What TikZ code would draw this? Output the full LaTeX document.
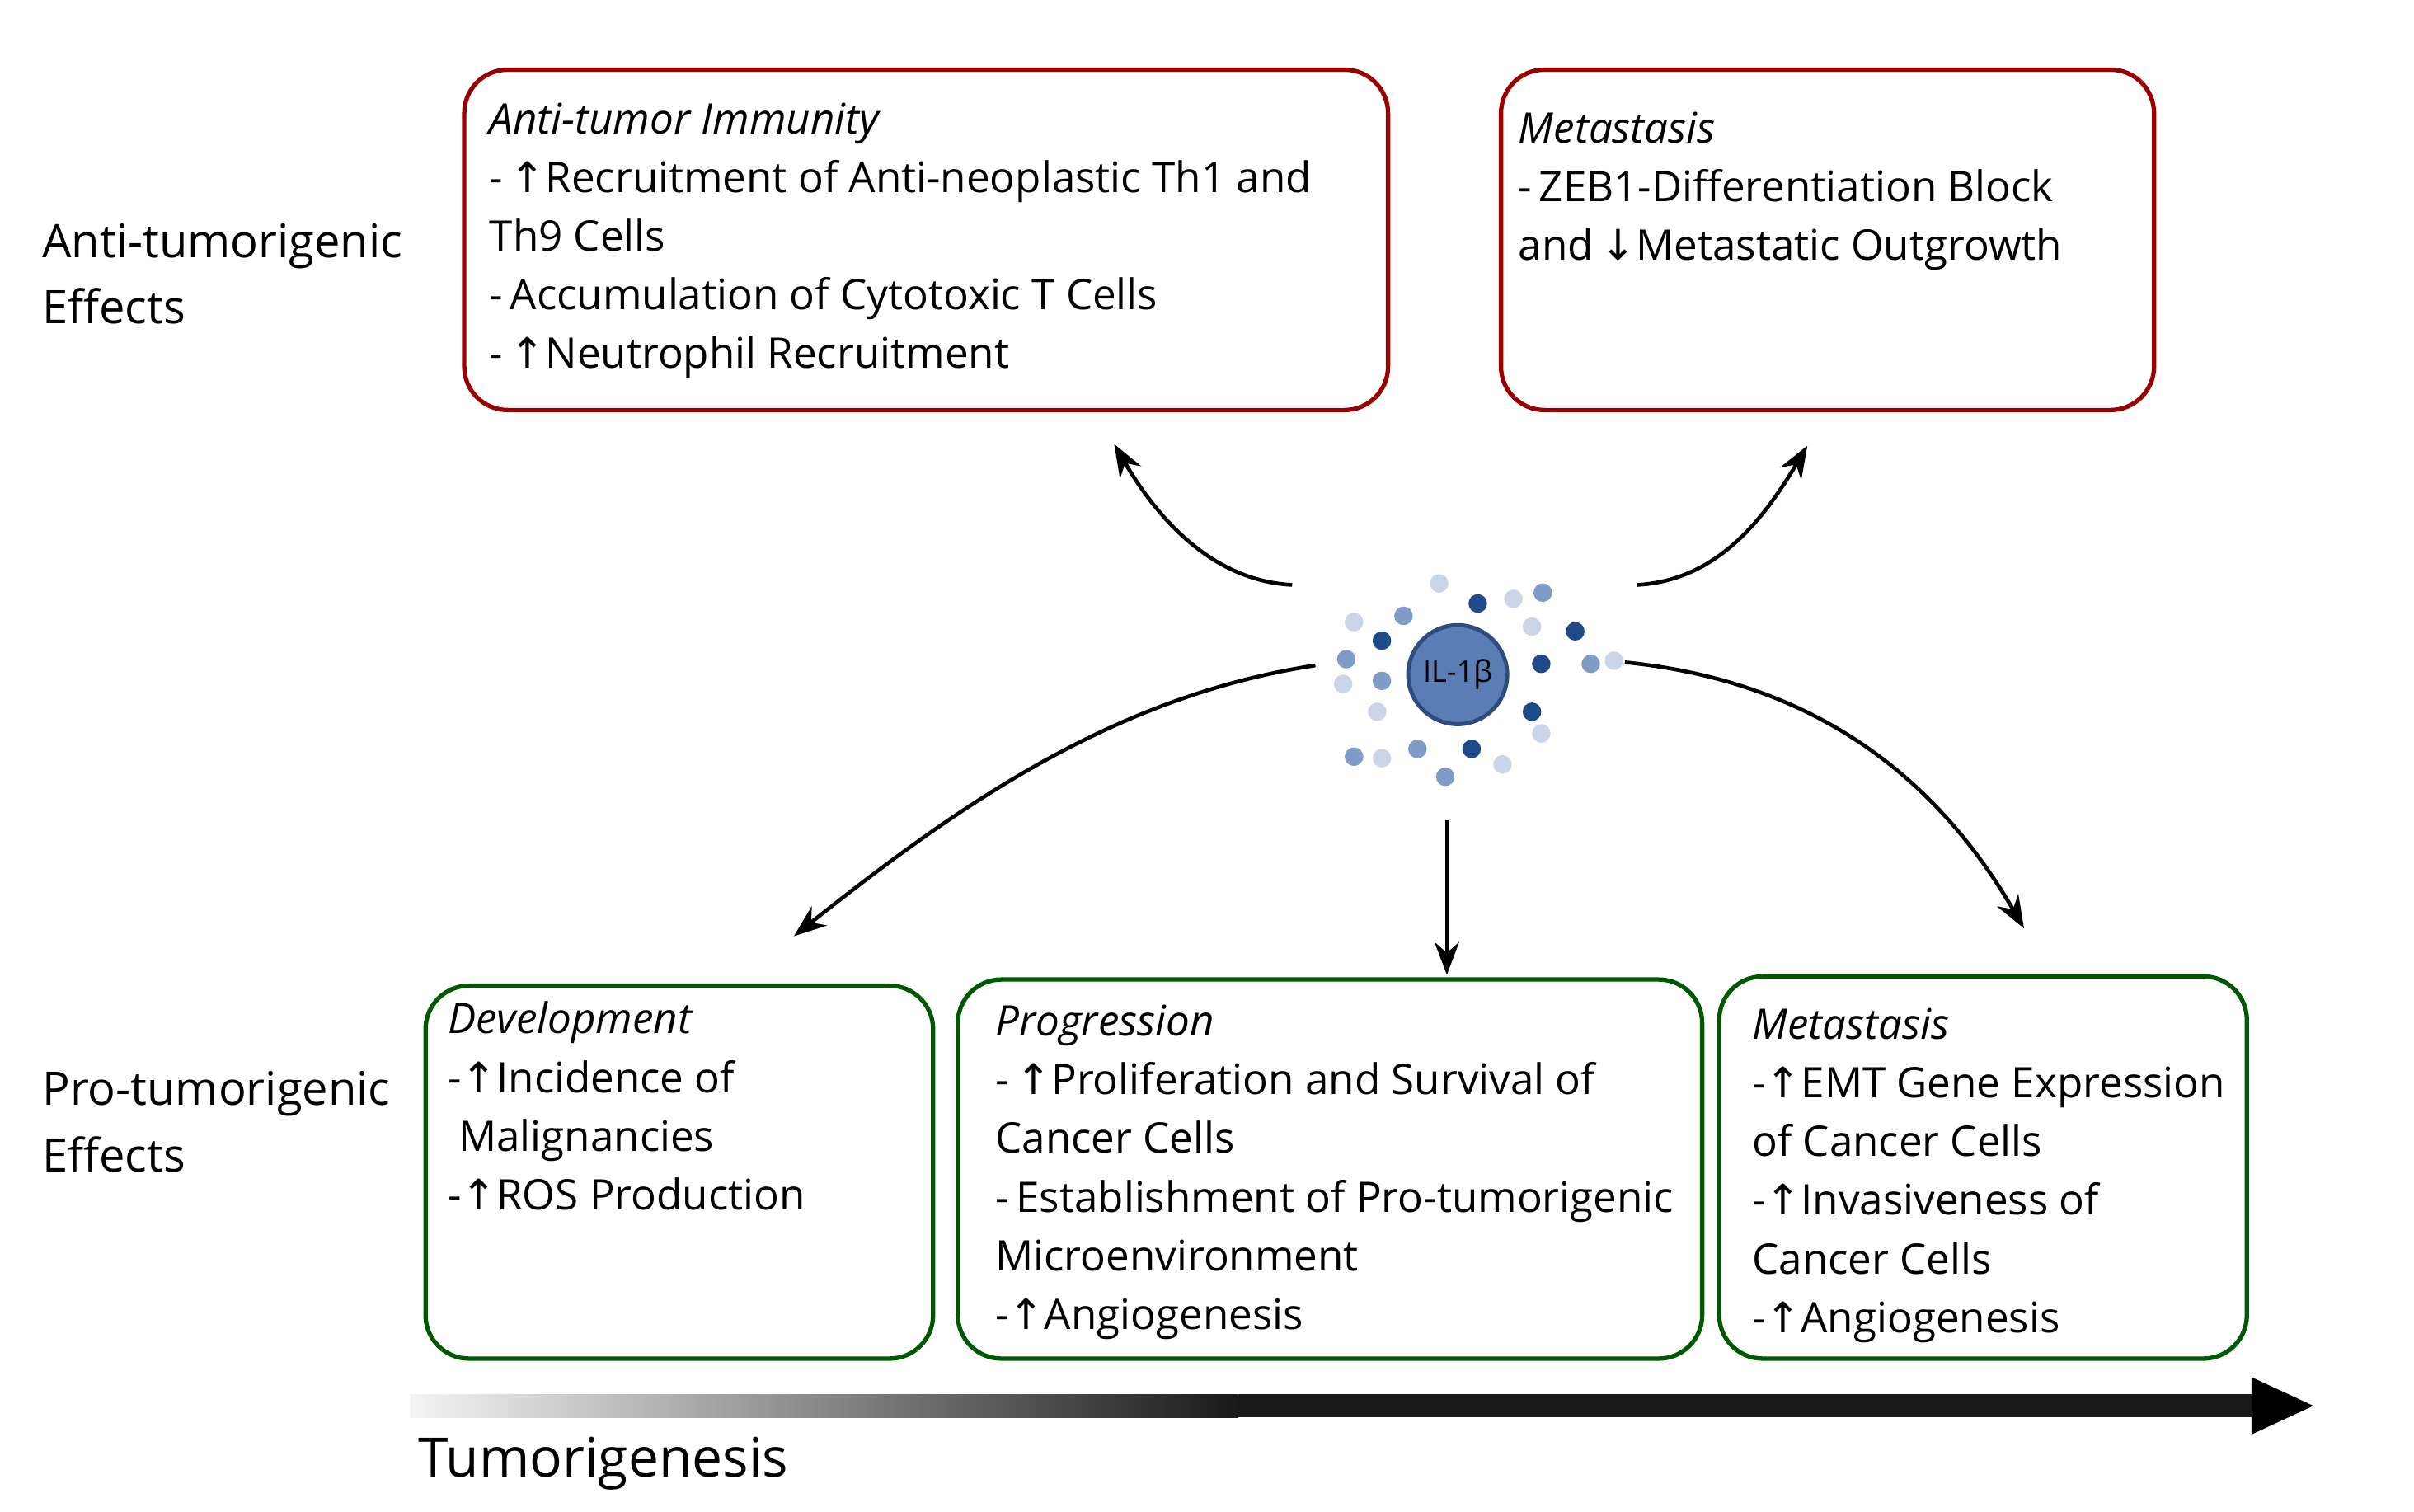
\documentclass[tikz,border=0pt]{standalone}
\usetikzlibrary{arrows.meta}
\usepackage{fontspec}
\setmainfont{Open Sans}
\newfontfamily\arr{DejaVu Sans}
\newcommand{\up}{{\arr ↑}}
\newcommand{\dn}{{\arr ↓}}
\definecolor{ildk}{HTML}{1F4A8A}
\definecolor{ilmd}{HTML}{7F9CC6}
\definecolor{illt}{HTML}{CAD5E8}
\definecolor{ilcore}{HTML}{5A7DB5}
\definecolor{ilrim}{HTML}{2E4C7E}
\begin{document}
\begin{tikzpicture}[x=0.02cm,y=-0.02cm,
  redbox/.style={draw=red!60!black,line width=1.6pt,rounded corners=16pt},
  greenbox/.style={draw=green!35!black,line width=1.6pt,rounded corners=16pt},
  txt/.style={anchor=north west,inner sep=0pt,align=left,font=\fontsize{15.5}{21.6}\selectfont},
  side/.style={anchor=north west,inner sep=0pt,align=left,font=\fontsize{17}{24.5}\selectfont},
  conn/.style={-{Stealth[length=12pt,width=9pt]},line width=1.4pt},
  dk/.style={fill=ildk,draw=none},
  md/.style={fill=ilmd,draw=none},
  lt/.style={fill=illt,draw=none}]
\useasboundingbox (0,0) rectangle (1560,977);
% boxes
\draw[redbox] (300,45) rectangle (897,265);
\draw[redbox] (970,45) rectangle (1392,265);
\draw[greenbox] (275,637) rectangle (603,878);
\draw[greenbox] (619,633) rectangle (1100,878);
\draw[greenbox] (1111,631) rectangle (1452,878);
% texts
\node[txt] (t1) at (316,66) {\textit{Anti-tumor Immunity}\\-\,\up Recruitment of Anti-neoplastic Th1 and\\Th9 Cells\\-\,Accumulation of Cytotoxic T Cells\\-\,\up Neutrophil Recruitment};
\node[txt] (t2) at (981,72) {\textit{Metastasis}\\-\,ZEB1-Differentiation Block\\and\,\dn Metastatic Outgrowth};
\node[txt] (t3) at (289,647) {\textit{Development}\\-\up Incidence of\\\ Malignancies\\-\up ROS Production};
\node[txt] (t4) at (643,649) {\textit{Progression}\\-\,\up Proliferation and Survival of\\Cancer Cells\\-\,Establishment of Pro-tumorigenic\\Microenvironment\\-\up Angiogenesis};
\node[txt] (t5) at (1132,651) {\textit{Metastasis}\\-\up EMT Gene Expression\\of Cancer Cells\\-\up Invasiveness of\\Cancer Cells\\-\up Angiogenesis};
\node[side] (s1) at (27,144) {Anti-tumorigenic\\Effects};
\node[side] (s2) at (27,692) {Pro-tumorigenic\\Effects};
% center
\node[circle,draw=ilrim,line width=1.5pt,fill=ilcore,minimum size=1.28cm,inner sep=0pt,font=\fontsize{11}{13}\selectfont] (il) at (942,436) {IL-1β};
\foreach \x/\y/\s in {930/377/lt,955/390/dk,978/387/lt,997/383/md,907/398/md,875/402/lt,893/414/dk,990/405/lt,1018/408/dk,870/426/md,868/442/lt,893/440/md,996/429/dk,1028/429/md,1043/427/lt,890/460/lt,990/460/dk,996/474/lt,916/484/md,951/484/dk,875/489/md,893/490/lt,934/502/md,971/494/lt}
  \fill[\s] (\x,\y) circle (6);
% arrows
\coordinate (a1) at (835,378); \coordinate (b1) at (720,287);
\coordinate (a2) at (1058,378); \coordinate (b2) at (1168,288);
\coordinate (a3) at (850,430); \coordinate (b3) at (513,605);
\coordinate (a4) at (935,530); \coordinate (b4) at (935,630);
\coordinate (a5) at (1050,428); \coordinate (b5) at (1308,600);
\draw[conn] (a1) .. controls (780,375) and (745,330) .. (b1);
\draw[conn] (a2) .. controls (1110,375) and (1140,335) .. (b2);
\draw[conn] (a3) .. controls (720,450) and (620,520) .. (b3);
\draw[conn] (a4) -- (b4);
\draw[conn] (a5) .. controls (1170,440) and (1250,500) .. (b5);
% tumorigenesis arrow
\shade[left color=gray!8,right color=black!90] (265,901) rectangle (800,916);
\fill[black!90] (800,901) rectangle (1460,916);
\fill[black] (1455,890) -- (1495,908.5) -- (1455,927) -- cycle;
\node[anchor=west,inner sep=0pt,font=\fontsize{20}{24}\selectfont] (tg) at (270,946) {Tumorigenesis};
\end{tikzpicture}
\end{document}
